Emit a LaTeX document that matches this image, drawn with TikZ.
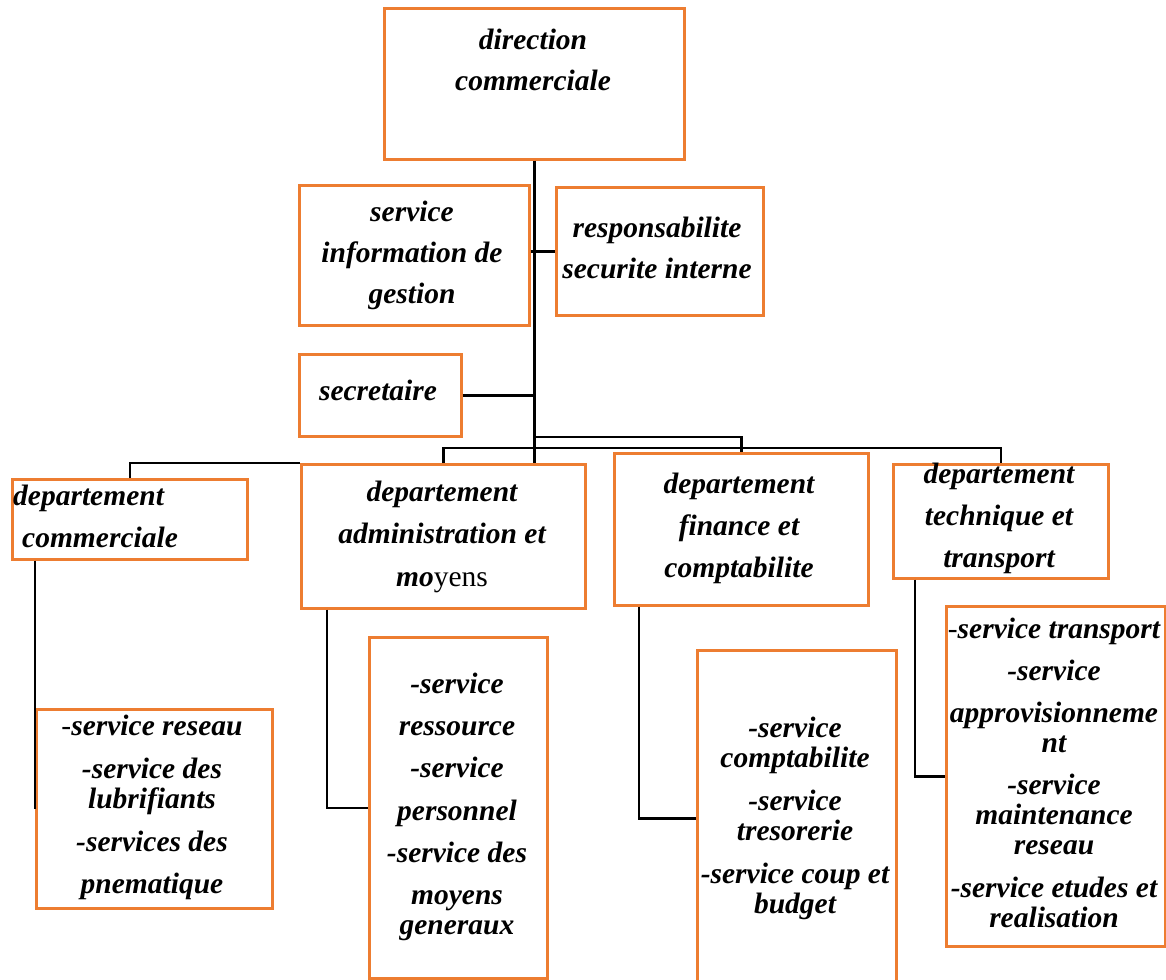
\documentclass[tikz,border=0pt]{standalone}
\usepackage{fontspec}
\setmainfont{Liberation Serif}
\definecolor{boxorange}{RGB}{237,125,49}
\newcommand\bistyle{\fontsize{29.5}{30}\selectfont\bfseries\itshape}
\newcommand\mylines[2][c]{\begin{tabular}[t]{@{}#1@{}}#2\end{tabular}}
\begin{document}
\begin{tikzpicture}[x=1pt,y=-1pt,
  box/.style={draw=boxorange, line width=2.6pt, fill=white, inner sep=0pt, anchor=north west},
  txt/.style={inner sep=0pt, anchor=base, font=\bistyle},
  link/.style={draw=black, line width=2.4pt}]
\useasboundingbox (0,0) rectangle (1166,979);
\clip (0,0) rectangle (1166,979);
% boxes
\node[box, minimum width=300pt, minimum height=151pt] (dc) at (383,7) {};
\node[box, minimum width=230pt, minimum height=140pt] (info) at (298,184) {};
\node[box, minimum width=207pt, minimum height=128pt] (resp) at (555,186) {};
\node[box, minimum width=162pt, minimum height=82pt] (sec) at (298,353) {};
\node[box, minimum width=235pt, minimum height=80pt] (dcom) at (11,478) {};
\node[box, minimum width=284pt, minimum height=144pt] (adm) at (300,463) {};
\node[box, minimum width=254pt, minimum height=152pt] (fin) at (613,452) {};
\node[box, minimum width=215pt, minimum height=114pt] (tech) at (892,463) {};
\node[box, minimum width=236pt, minimum height=199pt] (reseau) at (35,708) {};
\node[box, minimum width=178pt, minimum height=341pt] (admsvc) at (368,636) {};
\node[box, minimum width=199pt, minimum height=336pt] (finsvc) at (696,649) {};
\node[box, minimum width=219pt, minimum height=340pt] (techsvc) at (945,605) {};
% bus levels
\coordinate (busA) at (0,437);
\coordinate (busB) at (0,448);
% connectors
\draw[link, line width=3pt] (dc.south) -- (dc.south |- adm.north);
\draw[link] (info.east |- resp.west) -- (resp.west);
\draw[link] (sec.east) -- (sec.east -| dc.south);
\draw[link] (dc.south |- busA) -- (fin.north |- busA) -- (fin.north);
\draw[link] (adm.north) -- (adm.north |- busB) -- (tech.north |- busB) -- (tech.north);
\draw[link] (dcom.north) |- (adm.north west);
\draw[link] (reseau.west |- dcom.south) -- (reseau.west);
\draw[link] ([xshift=27pt]adm.south west) |- (admsvc.west);
\draw[link] ([xshift=26pt]fin.south west) |- (finsvc.west);
\draw[link] ([xshift=23pt]tech.south west) |- (techsvc.west);
% texts
\node[txt] (tdc) at (533,50) {\mylines{direction\\[11pt]commerciale}};
\node[txt] (tinfo) at (412,221) {\mylines{service\\[11pt]information de\\[11pt]gestion}};
\node[txt] (tresp) at (657,237) {\mylines{responsabilite\\[11pt]securite interne}};
\node[txt] (tsec) at (378,400) {secretaire};
\node[txt, anchor=base west] (tdcom) at (13,505) {\mylines[l]{departement\\[12pt]\hspace{9pt}commerciale}};
\node[txt] (tadm) at (442,501) {\mylines{departement\\[12pt]administration et\\[13pt]mo{\normalfont yens}}};
\node[txt] (tfin) at (739,493) {\mylines{departement\\[12pt]finance et\\[12pt]comptabilite}};
\node[txt] (ttech) at (999,483) {\mylines{departement\\[12pt]technique et\\[12pt]transport}};
\node[txt] (treseau) at (152,735) {\mylines{{\normalfont -}\textbf{\textit{service reseau}}\\[13pt]-service des\\lubrifiants\\[13pt]-services des\\[12pt]pnematique}};
\node[txt] (tadmsvc) at (457,693) {\mylines{-service\\[12pt]ressource\\[12pt]-service\\[13pt]personnel\\[12pt]-service des\\[12pt]moyens\\generaux}};
\node[txt] (tfinsvc) at (795,737) {\mylines{-service\\comptabilite\\[13pt]-service\\tresorerie\\[13pt]-service coup et\\budget}};
\node[txt] (ttechsvc) at (1054,638) {\mylines{{\normalfont -}\textbf{\textit{service transport}}\\[12pt]-service\\[12pt]approvisionneme\\nt\\[12pt]-service\\maintenance\\reseau\\[13pt]-service etudes et\\realisation}};
\end{tikzpicture}
\end{document}
